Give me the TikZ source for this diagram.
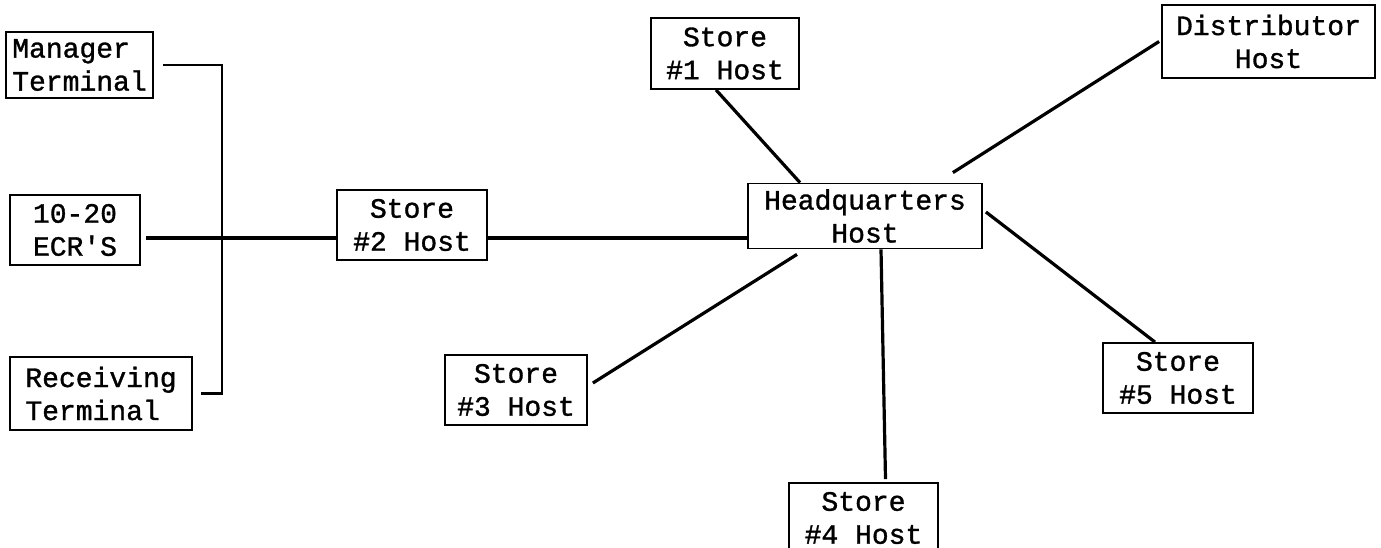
\documentclass[tikz,border=0pt]{standalone}
\usepackage{fontspec}
\newfontfamily\tw[FakeBold=1.2]{Liberation Mono}
\begin{document}
\begin{tikzpicture}[x=1pt,y=-1pt,
  box/.style={draw,line width=1.8pt,rectangle,inner sep=0pt,align=center,
    font=\tw\fontsize{28}{33}\selectfont},
  link/.style={line width=3.2pt}]
\useasboundingbox (0,0) rectangle (1381,548);
\clip (0,0) rectangle (1381,548);
\node[box,minimum width=147pt,minimum height=66pt,align=left] (mgr) at (79.5,65) {Manager\\Terminal};
\node[box,minimum width=130pt,minimum height=70pt] (ecr) at (75,230) {10-20\\ECR'S};
\node[box,minimum width=182pt,minimum height=73pt,align=left] (rcv) at (101,393.5) {Receiving\\Terminal};
\node[box,minimum width=150pt,minimum height=70pt] (s2) at (412,225) {Store\\\#2 Host};
\node[box,minimum width=234pt,minimum height=65pt] (hq) at (865,216) {Headquarters\\Host};
\node[box,minimum width=148pt,minimum height=71pt] (s1) at (725,53.5) {Store\\\#1 Host};
\node[box,minimum width=213pt,minimum height=73pt] (dist) at (1268.5,41.5) {Distributor\\Host};
\node[box,minimum width=142pt,minimum height=70pt] (s3) at (516,390) {Store\\\#3 Host};
\node[box,minimum width=149pt,minimum height=70pt] (s4) at (863.5,518) {Store\\\#4 Host};
\node[box,minimum width=150pt,minimum height=70pt] (s5) at (1178,378) {Store\\\#5 Host};
\coordinate (j) at (222,238);
% bracket
\draw[line width=2.2pt] ([xshift=9]mgr.east) -| (j |- rcv.east) -- ([xshift=8]rcv.east);
\draw[link] ([xshift=5]ecr.east |- j) -- (s2.west |- j);
\draw[link] (s2.east |- j) -- (hq.west |- j);
\draw[link] ([xshift=-9]s1.south) -- ([xshift=-65]hq.north);
\draw[link] ([xshift=-2]dist.west) -- ([xshift=-30,yshift=10]hq.north east);
\draw[link] ([xshift=5,yshift=7]s3.east) -- ([xshift=-68,yshift=-5]hq.south);
\draw[link] ([xshift=16]hq.south) -- ([xshift=22,yshift=3]s4.north);
\draw[link] ([xshift=3,yshift=4]hq.east) -- ([xshift=-23]s5.north);
\end{tikzpicture}
\end{document}
